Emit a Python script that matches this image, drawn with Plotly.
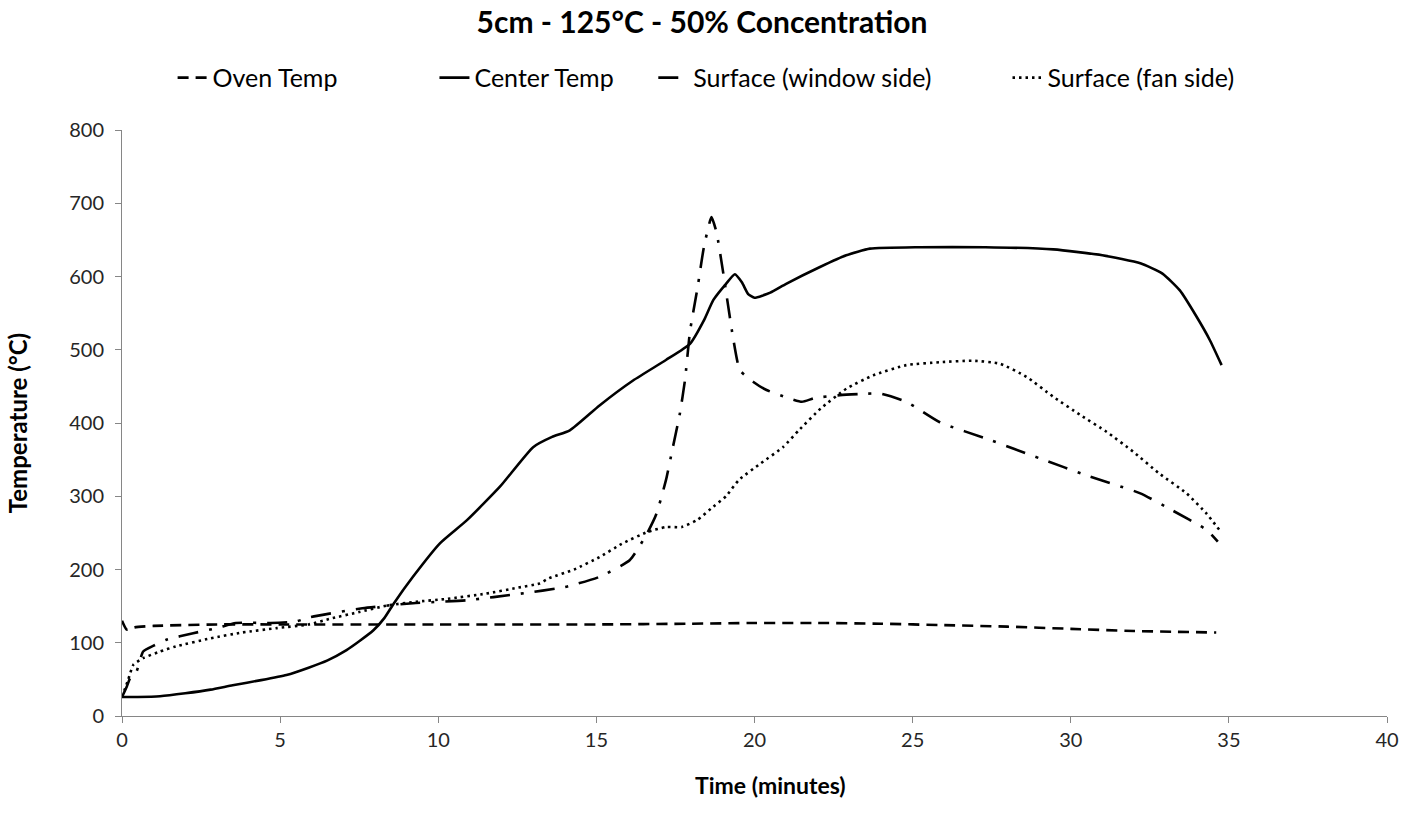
import plotly.graph_objects as go

# Oven air temperature
oven_t = [0, 0.15, 0.4, 1, 3, 5, 8, 10, 12, 15, 18, 20, 22, 24, 26, 28, 30, 32, 34.6]
oven_T = [130, 118, 121, 123, 125, 125, 125, 125, 125, 125, 126, 127, 127, 126, 124, 122, 119, 116, 114]

# Sample centre temperature
center_t = [0, 0.5, 1.2, 2, 2.8, 3.5, 4.4, 5.2, 5.9, 6.5, 7.1, 7.5, 7.95, 8.3, 8.6, 9.2,
            10.06, 10.9, 11.95, 13.0, 13.6, 14.16, 15.1, 16.16, 17.2, 17.96, 18.4, 18.7,
            19.1, 19.38, 19.6, 19.8, 20.0, 20.5, 21.0, 22.07, 22.9, 23.65, 25.2, 27.3,
            29.45, 31.0, 32.2, 32.9, 33.45, 33.98, 34.4, 34.77]
center_T = [26, 26, 27, 31, 36, 42, 49, 56, 66, 76, 90, 102, 117, 134, 154, 190,
            236, 267, 313, 367, 381, 390, 424, 458, 486, 508, 540, 568,
            590, 603, 592, 576, 571, 578, 590, 613, 629, 638, 640, 640,
            637, 629, 618, 604, 581, 545, 513, 479]

# Surface temperature, window side
window_t = [0, 0.15, 0.3, 0.45, 0.67, 1.0, 1.4, 2.25, 3.0, 3.6, 4.7, 5.5, 5.95, 7.6, 9.2,
            10.9, 12.6, 14.0, 15.1, 16.06, 16.6, 16.9, 17.2, 17.4, 17.64, 17.8, 17.96,
            18.2, 18.4, 18.64, 18.8, 19.0, 19.32, 19.54, 20.0, 20.38, 21.0, 21.5, 21.9,
            22.7, 23.55, 24.0, 24.8, 25.86, 27.44, 29.0, 30.6, 32.2, 33.2, 34.3, 34.65]
window_T = [26, 40, 56, 60, 88, 96, 104, 113, 120, 127, 127, 129, 135, 147, 154,
            158, 167, 176, 190, 213, 249, 276, 322, 363, 413, 458, 525,
            585, 640, 681, 660, 608, 517, 472, 455, 445, 435, 429, 434,
            438, 440, 440, 429, 401, 377, 352, 327, 304, 281, 254, 238]

# Surface temperature, fan side
fan_t = [0, 0.2, 0.36, 0.67, 1.2, 1.7, 2.8, 3.8, 4.9, 5.9, 6.6, 7.5, 8.4, 9.3, 10.3, 11.5,
         12.5, 13.2, 13.5, 14.3, 15.1, 15.8, 16.6, 17.2, 17.7, 18.2, 18.7, 19.1, 19.5,
         20.2, 20.9, 21.4, 22.1, 22.91, 23.75, 24.8, 25.86, 26.9, 27.76, 28.6, 29.44,
         30.3, 31.13, 31.97, 32.8, 33.66, 34.3, 34.7]
fan_T = [26, 50, 70, 79, 88, 95, 106, 114, 120, 125, 133, 142, 151, 156, 160, 167,
         175, 181, 188, 200, 217, 235, 251, 258, 258, 268, 286, 300, 322,
         345, 367, 390, 420, 447, 465, 479, 483, 485, 481, 463, 436,
         411, 388, 361, 331, 304, 276, 254]

x_ticks = [0, 5, 10, 15, 20, 25, 30, 35, 40]
y_ticks = [0, 100, 200, 300, 400, 500, 600, 700, 800]

FONT = "Lato"
LW = 2.6

# name, times, temperatures, dash pattern, legend slot, legend x (paper units)
series = [
    ("Oven Temp", oven_t, oven_T, "11px,7px", "legend", 0.040),
    ("Center Temp", center_t, center_T, "solid", "legend2", 0.247),
    ("Surface (window side)", window_t, window_T, "20px,11px,3px,11px", "legend3", 0.420),
    ("Surface (fan side)", fan_t, fan_T, "2.5px,4px", "legend4", 0.700),
]

fig = go.Figure()
legends = {}
for name, t, T, dash, leg, lx in series:
    fig.add_trace(go.Scatter(
        x=t, y=T, name=name, mode="lines", legend=leg,
        line=dict(color="black", width=LW, dash=dash, shape="spline", smoothing=0.5),
    ))
    legends[leg] = dict(
        orientation="h", x=lx, xanchor="left", y=1.089, yanchor="middle",
        font=dict(family=FONT, size=25, color="black"),
        bgcolor="rgba(0,0,0,0)", itemwidth=30, visible=True,
    )

axis_common = dict(
    showgrid=False, zeroline=False, showline=True, linecolor="#868686", linewidth=1,
    ticks="outside", tickcolor="#868686", ticklen=6, tickwidth=1,
    tickfont=dict(family=FONT, size=20, color="#262626"),
)

fig.update_layout(
    width=1425, height=826,
    margin=dict(l=122, r=38, t=130, b=110),
    paper_bgcolor="white", plot_bgcolor="white",
    showlegend=True,
    title=dict(text="<b>5cm - 125°C - 50% Concentration</b>", x=702 / 1425, xanchor="center",
               y=1 - 22 / 826, yanchor="middle",
               font=dict(family=FONT, size=30, color="black")),
    xaxis=dict(range=[0, 40], tickvals=x_ticks, **axis_common),
    yaxis=dict(range=[0, 800], tickvals=y_ticks, ticklabelstandoff=7,
               title=dict(text="<b>Temperature (°C)</b>", standoff=34,
                          font=dict(family=FONT, size=24, color="black")),
               **axis_common),
    annotations=[dict(text="<b>Time (minutes)</b>", xref="paper", yref="paper",
                      x=0.513, y=-0.1177, xanchor="center", yanchor="middle",
                      showarrow=False, font=dict(family=FONT, size=23, color="black"))],
    **legends,
)

fig.write_html("out.html")
